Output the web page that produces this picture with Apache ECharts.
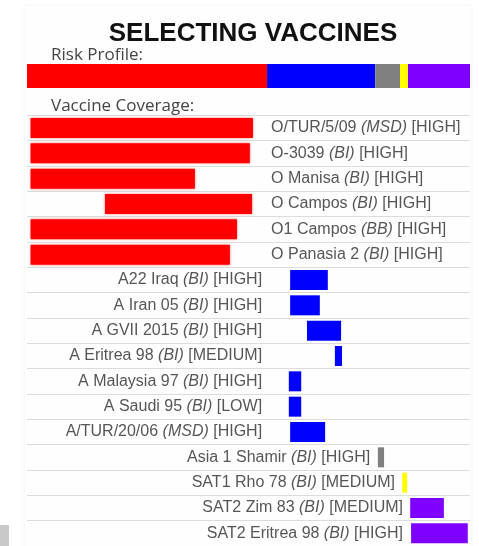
<!DOCTYPE html>
<html>
<head>
<meta charset="utf-8">
<style>html,body{margin:0;padding:0;background:#fff;}#c{width:479px;height:546px;}</style>
<script src="https://cdn.jsdelivr.net/npm/echarts@6/dist/echarts.min.js"></script>
</head>
<body>
<div id="c"></div>
<script>
// Risk profile segments (share of the 0-100 scale)
const riskGroups = ['O', 'A', 'Asia1', 'SAT1', 'SAT2'];
const riskShares = [54.2, 24.4, 5.6, 1.8, 14.0];
const riskColors = ['#ff0000', '#0000ff', '#808080', '#ffff00', '#7f00ff'];

// Vaccines
const vaccineNames = ['O/TUR/5/09', 'O-3039', 'O Manisa', 'O Campos', 'O1 Campos', 'O Panasia 2',
  'A22 Iraq', 'A Iran 05', 'A GVII 2015', 'A Eritrea 98', 'A Malaysia 97', 'A Saudi 95', 'A/TUR/20/06',
  'Asia 1 Shamir', 'SAT1 Rho 78', 'SAT2 Zim 83', 'SAT2 Eritrea 98'];
const vaccineMakers = ['MSD', 'BI', 'BI', 'BI', 'BB', 'BI',
  'BI', 'BI', 'BI', 'BI', 'BI', 'BI', 'MSD',
  'BI', 'BI', 'BI', 'BI'];
const vaccineRatings = ['HIGH', 'HIGH', 'HIGH', 'HIGH', 'HIGH', 'HIGH',
  'HIGH', 'HIGH', 'HIGH', 'MEDIUM', 'HIGH', 'LOW', 'HIGH',
  'HIGH', 'MEDIUM', 'MEDIUM', 'HIGH'];
const vaccineGroups = ['O', 'O', 'O', 'O', 'O', 'O',
  'A', 'A', 'A', 'A', 'A', 'A', 'A',
  'Asia1', 'SAT1', 'SAT2', 'SAT2'];
const coverageStart = [0.8, 0.8, 0.8, 17.6, 0.8, 0.8,
  59.4, 59.4, 63.2, 69.5, 59.1, 59.1, 59.4,
  79.2, 84.7, 86.5, 86.7];
const coverageEnd = [51.0, 50.3, 37.9, 50.8, 47.4, 45.8,
  67.9, 66.1, 70.9, 71.1, 61.9, 61.9, 67.3,
  80.6, 85.8, 94.1, 99.5];

// derived
const segStart = [];
let acc = 0;
riskShares.forEach(v => { segStart.push(acc); acc += v; });
const cats = vaccineNames.map((n, i) => String(i));

const chart = echarts.init(document.getElementById('c'), null, {renderer: 'canvas'});

const labelFont = '"Liberation Sans", Arial, sans-serif';
const labelData = vaccineNames.map((n, i) => {
  const g = riskGroups.indexOf(vaccineGroups[i]);
  const first = g === 0;
  const x = first ? segStart[0] + riskShares[0] : segStart[g];
  return {
    value: [x, cats[i]],
    label: {
      position: first ? 'right' : 'left',
      distance: first ? 4 : 5,
      formatter: '{n|' + n + ' }{i|(' + vaccineMakers[i] + ')}{n| [' + vaccineRatings[i] + ']}'
    }
  };
});

const riskSeries = riskShares.map((v, k) => ({
  type: 'bar', xAxisIndex: 1, yAxisIndex: 1, stack: 'risk', barWidth: 24,
  data: [v], itemStyle: {color: riskColors[k]}, silent: true
}));

chart.setOption({
  animation: false,
  backgroundColor: '#ffffff',
  graphic: [
    {type: 'rect', shape: {x: 24, y: 5, width: 448, height: 545}, style: {fill: '#fefefe', stroke: '#f6f6f6', lineWidth: 1}, z: -10},
    {type: 'rect', shape: {x: 0, y: 525, width: 9, height: 21}, style: {fill: '#c8c8c8'}},
    {type: 'text', left: 51, top: 47, style: {text: 'Risk Profile:', font: '17px "Open Sans", sans-serif', fill: '#444'}},
    {type: 'text', left: 51, top: 98, style: {text: 'Vaccine Coverage:', font: '17px "Open Sans", sans-serif', fill: '#444'}}
  ],
  title: {
    text: 'SELECTING VACCINES', left: 248, top: 16, textAlign: 'center',
    textStyle: {fontFamily: labelFont, fontWeight: 'bold', fontSize: 26, color: '#111'}
  },
  grid: [
    {left: 27, right: 9, top: 115.3, height: 432.4, containLabel: false},
    {left: 27, right: 9, top: 64, height: 24, containLabel: false}
  ],
  xAxis: [
    {gridIndex: 0, type: 'value', min: 0, max: 100, show: false},
    {gridIndex: 1, type: 'value', min: 0, max: 100, show: false}
  ],
  yAxis: [
    {gridIndex: 0, type: 'category', data: cats, inverse: true,
      axisLabel: {show: false}, axisTick: {show: false}, axisLine: {show: false},
      splitLine: {show: true, lineStyle: {color: '#dcdcdc', width: 1}}},
    {gridIndex: 1, type: 'category', data: ['risk'], show: false}
  ],
  series: [
    {type: 'bar', stack: 'cov', barWidth: 20, data: coverageStart, itemStyle: {color: 'transparent'}, silent: true},
    {type: 'bar', stack: 'cov', barWidth: 20, silent: true,
      data: coverageEnd.map((e, i) => {
        const g = riskGroups.indexOf(vaccineGroups[i]);
        const red = g === 0;
        return {
          value: +(e - coverageStart[i]).toFixed(2),
          itemStyle: red ? {color: riskColors[g], shadowBlur: 3, shadowColor: 'rgba(255,0,0,0.7)'} : {color: riskColors[g]}
        };
      })},
    {type: 'scatter', symbolSize: 0, data: labelData, silent: true,
      label: {show: true, color: '#2a2a2a', fontFamily: labelFont, fontSize: 16,
        rich: {
          n: {fontFamily: labelFont, fontSize: 16, color: '#2a2a2a'},
          i: {fontFamily: labelFont, fontSize: 16, color: '#2a2a2a', fontStyle: 'italic'}
        }}},
    ...riskSeries
  ]
});
</script>
</body>
</html>
